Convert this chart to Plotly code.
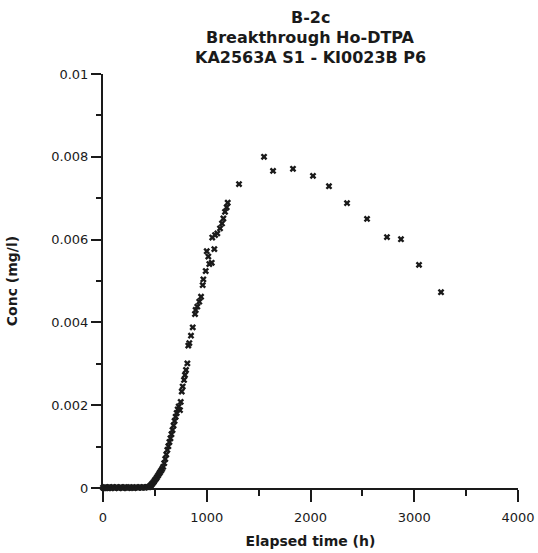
import plotly.graph_objects as go

# Elapsed time (h) and concentration (mg/l)
time_flat = [0, 8, 15, 23, 30, 38, 46, 54, 62, 70, 78, 86, 95, 104, 113, 122,
             131, 140, 150, 160, 170, 180, 190, 200, 212, 224, 236, 248, 260,
             272, 284, 296, 308, 320, 332, 344, 356, 368, 380, 392, 404, 416, 428]
conc_flat = [0.00001, 0.0, 0.00001, 0.00002, 0.0, 0.00001, 0.00001, 0.0, 0.00002,
             0.00001, 0.0, 0.00001, 0.00002, 0.00001, 0.0, 0.00001, 0.00002, 0.00001,
             0.0, 0.00001, 0.00002, 0.00001, 0.0, 0.00001, 0.00002, 0.00001, 0.0,
             0.00001, 0.00002, 0.00001, 0.00001, 0.0, 0.00001, 0.00002, 0.00001,
             0.00001, 0.00002, 0.00001, 0.00001, 0.00002, 0.00001, 0.00002, 0.00002]

time_rise = [440, 450, 460, 470, 480, 490, 500, 510, 520, 530, 540, 550, 560, 570,
             580, 590, 600, 610, 620, 630, 640, 650, 660, 670, 680, 690, 700, 710,
             720, 730]
conc_rise = [0.00002, 0.00004, 0.00006, 0.00009, 0.00012, 0.00015, 0.00019, 0.00022,
             0.00026, 0.00030, 0.00034, 0.00038, 0.00042, 0.00046, 0.00051, 0.00060,
             0.00070, 0.00081, 0.00092, 0.00101, 0.00111, 0.00120, 0.00130, 0.00140,
             0.00151, 0.00162, 0.00172, 0.00181, 0.00190, 0.00197]

time_upper = [742, 749, 759, 768, 781, 790, 800, 813, 822, 832, 848, 865, 887, 893,
              909, 928, 945, 961, 967, 990, 1000, 1015, 1025, 1048, 1053, 1073, 1080,
              1102, 1128, 1147, 1160, 1176, 1192, 1202]
conc_upper = [0.00188, 0.00208, 0.00233, 0.00245, 0.00261, 0.00273, 0.00285, 0.00301,
              0.00344, 0.00350, 0.00368, 0.00388, 0.00420, 0.00430, 0.00438, 0.00450,
              0.00462, 0.00490, 0.00504, 0.00524, 0.00572, 0.00559, 0.00541, 0.00544,
              0.00605, 0.00577, 0.00611, 0.00615, 0.00627, 0.00639, 0.00651, 0.00667,
              0.00678, 0.00689]

time_late = [1311, 1552, 1639, 1831, 2024, 2178, 2352, 2545, 2737, 2872, 3046, 3258]
conc_late = [0.00734, 0.00800, 0.00766, 0.00771, 0.00754, 0.00729, 0.00688, 0.00650,
             0.00606, 0.00601, 0.00539, 0.00473]

x_ticks = [0, 1000, 2000, 3000, 4000]
y_ticks = [0, 0.002, 0.004, 0.006, 0.008, 0.01]
y_ticktext = ["0", "0.002", "0.004", "0.006", "0.008", "0.01"]

title_lines = ["B-2c", "Breakthrough Ho-DTPA", "KA2563A S1 - KI0023B P6"]

times = time_flat + time_rise + time_upper + time_late
concs = conc_flat + conc_rise + conc_upper + conc_late

FONT = "DejaVu Sans"
INK = "#1a1a1a"
PLOT_TOP, PLOT_H = 74, 414

fig = go.Figure()
fig.add_trace(go.Scatter(
    x=times, y=concs, mode="markers",
    marker=dict(symbol="x", size=6, color=INK, line=dict(width=0)),
    cliponaxis=False, showlegend=False,
))

fig.update_layout(
    width=538, height=553,
    margin=dict(l=103, r=20, t=PLOT_TOP, b=65, autoexpand=False),
    paper_bgcolor="white", plot_bgcolor="white",
    font=dict(family=FONT, color=INK, size=13),
)

# title as three lines, baselines near 22, 42, 62 px
for i, line in enumerate(title_lines):
    center_px = 17 + 20 * i
    fig.add_annotation(
        text=line, showarrow=False,
        x=0.5, xref="paper", xanchor="center",
        y=1 + (PLOT_TOP - center_px) / PLOT_H, yref="paper", yanchor="middle",
        font=dict(family=FONT, size=16, weight="bold", color=INK),
    )

fig.update_xaxes(
    range=[0, 4000], tickvals=x_ticks, automargin=False,
    showline=True, linecolor=INK, linewidth=2,
    ticks="outside", ticklen=12, tickwidth=2, tickcolor=INK,
    minor=dict(dtick=500, ticks="outside", ticklen=6, tickwidth=2, tickcolor=INK),
    showgrid=False, zeroline=False,
    ticklabelstandoff=4,
    title=dict(text="Elapsed time (h)", font=dict(family=FONT, size=14, weight="bold"),
               standoff=13),
)
fig.update_yaxes(
    range=[0, 0.01], tickvals=y_ticks, ticktext=y_ticktext, automargin=False,
    showline=True, linecolor=INK, linewidth=2,
    ticks="outside", ticklen=10, tickwidth=2, tickcolor=INK,
    minor=dict(dtick=0.001, ticks="outside", ticklen=5, tickwidth=2, tickcolor=INK),
    showgrid=False, zeroline=False,
    title=dict(text="Conc (mg/l)", font=dict(family=FONT, size=14, weight="bold"),
               standoff=30),
)

fig.write_html("out.html")
